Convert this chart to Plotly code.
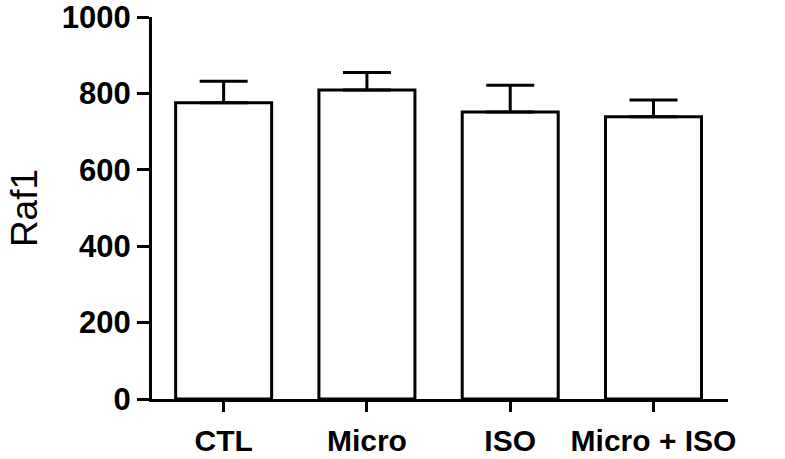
import plotly.graph_objects as go

categories = ["CTL", "Micro", "ISO", "Micro + ISO"]
means = [776, 809, 752, 739]
sem = [56, 46, 70, 44]
y_ticks = [0, 200, 400, 600, 800, 1000]

fig = go.Figure()
fig.add_trace(go.Bar(
    x=categories, y=means,
    width=0.67,
    marker=dict(color="white", line=dict(color="black", width=3)),
    error_y=dict(type="data", array=sem, arrayminus=[0]*len(sem), symmetric=False,
                 color="black", thickness=3, width=24),
))

fig.update_layout(
    width=785, height=459,
    margin=dict(l=152, r=57, t=17, b=60),
    plot_bgcolor="white", paper_bgcolor="white",
    showlegend=False,
    font=dict(family="Liberation Sans, Arial, sans-serif", color="black"),
    xaxis=dict(
        range=[-0.5, 3.52], showline=True, linecolor="black", linewidth=3,
        ticks="outside", ticklen=10, tickwidth=3, tickcolor="black",
        tickfont=dict(size=30, family="Liberation Sans, Arial", weight="bold"),
        showgrid=False, zeroline=False, ticklabelstandoff=3, automargin=False,
    ),
    yaxis=dict(
        range=[0, 1000.5], tickvals=y_ticks, showline=True, linecolor="black", linewidth=3,
        ticks="outside", ticklen=12, tickwidth=3, tickcolor="black",
        tickfont=dict(size=31, family="Liberation Sans, Arial", weight="bold"),
        showgrid=False, zeroline=False, automargin=False,
    ),
    annotations=[dict(
        text="Raf1", textangle=-90, xref="paper", yref="y",
        x=(24 - 152) / 576, y=500, xanchor="center", yanchor="middle",
        showarrow=False, font=dict(size=37, family="Liberation Sans, Arial"),
    )],
)

fig.write_html("out.html", config={"displayModeBar": False},
               post_script="document.body.style.margin='0';")
